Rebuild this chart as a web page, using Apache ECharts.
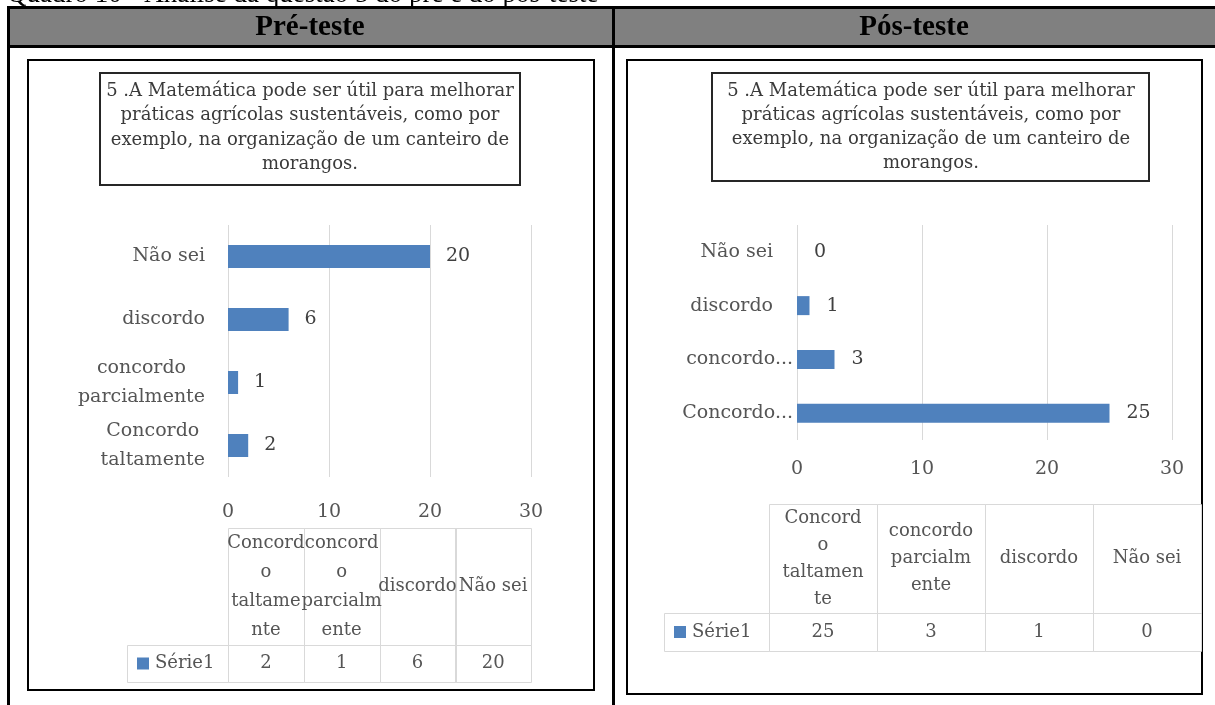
<!DOCTYPE html>
<html>
<head>
<meta charset="utf-8">
<title>Quadro 10 - Análise da questão 5</title>
<script src="https://cdn.jsdelivr.net/npm/echarts@6/dist/echarts.min.js"></script>
<style>
  html, body { margin: 0; padding: 0; background: #ffffff; }
  #chart { width: 1215px; height: 705px; }
</style>
</head>
<body>
<div id="chart"></div>
<script>
// ---- Data ----
const categories = ['Concordo taltamente', 'concordo parcialmente', 'discordo', 'Não sei'];
const preValues = [2, 1, 6, 20];
const postValues = [25, 3, 1, 0];
const seriesName = 'Série1';
const axisMin = 0;
const axisMax = 30;
const axisStep = 10;

// ---- Texts ----
const caption = 'Quadro 10 - Análise da questão 5 do pré e do pós-teste';
const panelHeaders = ['Pré-teste', 'Pós-teste'];
const questionLines = [
  '5 .A Matemática pode ser útil para melhorar',
  'práticas agrícolas sustentáveis, como por',
  'exemplo, na organização de um canteiro de',
  'morangos.'
];
// header lines of the data table under each chart, as wrapped by the spreadsheet
const preTableHeads = [['Concord', 'o', 'taltame', 'nte'], ['concord', 'o', 'parcialm', 'ente'], ['discordo'], ['Não sei']];
const postTableHeads = [['Concord', 'o', 'taltamen', 'te'], ['concordo', 'parcialm', 'ente'], ['discordo'], ['Não sei']];

// ---- Styling ----
const BAR = '#4F81BD';
const GRID_LINE = '#d9d9d9';
const LABEL = '#555555';
const VALUE = '#404040';
const SERIF = '"DejaVu Serif", serif';
const DOC = '"Liberation Serif", "Times New Roman", serif';

// Layout of the two panels
const panels = [
  {
    values: preValues, heads: preTableHeads, headerX: 310,
    box: { x: 28, y: 60, w: 566, h: 630 },
    title: { x: 100, y: 73, w: 420, h: 112, cx: 310, y0: 91, lh: 24.5 },
    grid: { left: 228, top: 225, width: 303, height: 252 },
    barWidth: 23, valueGap: 16, tickMargin: 26,
    table: { x: 127, legendW: 101, colW: 75.75, top: 528, headH: 117, rowH: 37, lh: 29 }
  },
  {
    values: postValues, heads: postTableHeads, headerX: 914,
    box: { x: 627, y: 60, w: 575, h: 634 },
    title: { x: 712, y: 73, w: 437, h: 108, cx: 931, y0: 91, lh: 24 },
    grid: { left: 797, top: 225, width: 375, height: 215 },
    barWidth: 19, valueGap: 17, tickMargin: 20,
    table: { x: 664, legendW: 105, colW: 108, top: 504, headH: 109, rowH: 38, lh: 27 }
  }
];

const FS_AXIS = 19;
const FS_TITLE = 18;
const FS_TABLE = 18;

// ---- Page frame (document table) ----
const graphics = [];
graphics.push({ type: 'text', x: 7, y: -5, silent: true,
  style: { text: caption, font: '27px ' + DOC, fill: '#000', verticalAlign: 'middle' } });
graphics.push({ type: 'rect', silent: true, shape: { x: 7, y: 9, width: 1208, height: 36 }, style: { fill: '#808080' } });
graphics.push({ type: 'rect', silent: true, shape: { x: 7, y: 6, width: 1208, height: 3 }, style: { fill: '#000' } });
graphics.push({ type: 'rect', silent: true, shape: { x: 7, y: 45, width: 1208, height: 3 }, style: { fill: '#000' } });
graphics.push({ type: 'rect', silent: true, shape: { x: 7, y: 6, width: 3, height: 700 }, style: { fill: '#000' } });
graphics.push({ type: 'rect', silent: true, shape: { x: 612, y: 6, width: 3, height: 700 }, style: { fill: '#000' } });

panels.forEach((p, i) => {
  graphics.push({ type: 'text', x: p.headerX, y: 28, silent: true,
    style: { text: panelHeaders[i], font: 'bold 29px ' + DOC, fill: '#000', align: 'center', verticalAlign: 'middle' } });
  // chart area border
  graphics.push({ type: 'rect', silent: true, z: -1,
    shape: { x: p.box.x, y: p.box.y, width: p.box.w, height: p.box.h },
    style: { fill: '#fff', stroke: '#000', lineWidth: 2 } });
  // question title box
  graphics.push({ type: 'rect', silent: true,
    shape: { x: p.title.x, y: p.title.y, width: p.title.w, height: p.title.h },
    style: { fill: '#fff', stroke: '#262626', lineWidth: 2 } });
  questionLines.forEach((line, k) => {
    graphics.push({ type: 'text', x: p.title.cx, y: p.title.y0 + k * p.title.lh, silent: true,
      style: { text: line, font: FS_TITLE + 'px ' + SERIF, fill: '#3a3a3a', align: 'center', verticalAlign: 'middle' } });
  });
  // data table under the chart
  const t = p.table;
  const cellStyle = { fill: null, stroke: GRID_LINE, lineWidth: 1 };
  const rowY = t.top + t.headH;
  p.heads.forEach((lines, j) => {
    const x = t.x + t.legendW + j * t.colW;
    graphics.push({ type: 'rect', silent: true,
      shape: { x: Math.round(x) + 0.5, y: t.top + 0.5, width: Math.round(t.colW), height: t.headH }, style: cellStyle });
    graphics.push({ type: 'rect', silent: true,
      shape: { x: Math.round(x) + 0.5, y: rowY + 0.5, width: Math.round(t.colW), height: t.rowH }, style: cellStyle });
    graphics.push({ type: 'text', x: x + t.colW / 2, y: t.top + t.headH / 2, silent: true, z: 2,
      style: { text: lines.join('\n'), font: FS_TABLE + 'px ' + SERIF, lineHeight: t.lh, fill: LABEL, align: 'center', verticalAlign: 'middle' } });
    graphics.push({ type: 'text', x: x + t.colW / 2, y: rowY + t.rowH / 2, silent: true,
      style: { text: String(p.values[j]), font: FS_TABLE + 'px ' + SERIF, fill: LABEL, align: 'center', verticalAlign: 'middle' } });
  });
  graphics.push({ type: 'rect', silent: true,
    shape: { x: t.x + 0.5, y: rowY + 0.5, width: t.legendW, height: t.rowH }, style: cellStyle });
  graphics.push({ type: 'rect', silent: true,
    shape: { x: t.x + 10, y: rowY + t.rowH / 2 - 6, width: 12, height: 12 }, style: { fill: BAR } });
  graphics.push({ type: 'text', x: t.x + 28, y: rowY + t.rowH / 2, silent: true,
    style: { text: seriesName, font: FS_TABLE + 'px ' + SERIF, fill: LABEL, verticalAlign: 'middle' } });
});

// ---- Axis label formatters ----
// Pre-test: long labels wrap at spaces, lines centred on each other
function wrapLabel(v) {
  const txt = v.length > 12 ? v.split(' ').join('\n') : v;
  return '{c|' + txt + '}';
}
// Post-test: long labels are cut to their first word
function cutLabel(v) {
  if (v.length > 12) return '{t|' + v.split(' ')[0] + '...}';
  return '{s|' + v + '}';
}

const labelFont = { fontFamily: SERIF, fontSize: FS_AXIS, color: LABEL };

const option = {
  animation: false,
  backgroundColor: '#fff',
  grid: panels.map(p => Object.assign({ containLabel: false }, p.grid)),
  xAxis: panels.map((p, i) => ({
    type: 'value', gridIndex: i, min: axisMin, max: axisMax, interval: axisStep,
    axisLine: { show: false }, axisTick: { show: false },
    splitLine: { show: true, lineStyle: { color: GRID_LINE, width: 1 } },
    axisLabel: Object.assign({ margin: p.tickMargin }, labelFont)
  })),
  yAxis: panels.map((p, i) => ({
    type: 'category', gridIndex: i, data: categories,
    axisLine: { show: false }, axisTick: { show: false },
    axisLabel: i === 0 ? {
      margin: 23, formatter: wrapLabel,
      rich: { c: Object.assign({ align: 'center', lineHeight: 29 }, labelFont) }
    } : {
      margin: 4, formatter: cutLabel,
      rich: {
        s: Object.assign({ padding: [0, 20, 0, 0] }, labelFont),
        t: Object.assign({}, labelFont)
      }
    }
  })),
  series: panels.map((p, i) => ({
    type: 'bar', name: seriesName, xAxisIndex: i, yAxisIndex: i,
    data: p.values, barWidth: p.barWidth,
    itemStyle: { color: BAR },
    label: { show: true, position: 'right', distance: p.valueGap,
      fontFamily: SERIF, fontSize: FS_AXIS, color: VALUE }
  })),
  graphic: graphics
};

const chart = echarts.init(document.getElementById('chart'), null, { renderer: 'canvas' });
chart.setOption(option);
</script>
</body>
</html>
